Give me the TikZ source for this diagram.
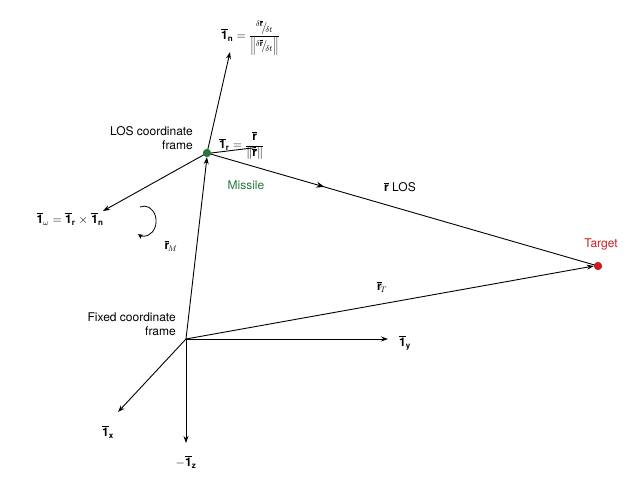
\documentclass[tikz,border=0pt]{standalone}
\usepackage{fontspec}
\setmainfont{TeX Gyre Heros}
\usetikzlibrary{arrows.meta,decorations.markings}
\definecolor{mgreen}{RGB}{40,120,60}
\definecolor{tred}{RGB}{200,30,30}
\newcommand{\vo}[1]{$\overline{\mathbf{1}}_{\mathbf{#1}}$}
\newcommand{\vr}{\overline{\mathbf{r}}}
\newcommand{\slfrac}{{}^{\delta\vr}\!\big/\!{}_{\delta t}}
\begin{document}
\begin{tikzpicture}[x=1pt,y=-1pt,
  vec/.style={-{Stealth[length=7pt,width=5pt]},line width=0.9pt},
  lbl/.style={font=\fontsize{12}{14}\selectfont,inner sep=1pt},
  dot/.style={circle,inner sep=0pt,minimum size=8pt}]
\useasboundingbox (0,0) rectangle (640,481);
\coordinate (O) at (186,339);
\node[dot,fill=mgreen] (M) at (207,153) {};
\node[dot,fill=tred] (T) at (598,266) {};
\coordinate (N) at (230,52);
\coordinate (W) at (103,211);
\coordinate (Y) at (388,339);
\coordinate (X) at (118,412);
\coordinate (Z) at (186,443);
\draw[vec] (M.center) -- (N);
\draw[vec] (M.center) -- (W);
\draw[vec] (O) -- (M.south);
\draw[line width=0.9pt,postaction={decorate},decoration={markings,mark=at position 0.3 with {\arrow{Stealth[length=8pt,width=6pt]}}}] (M.center) -- (T.center);
\draw[line width=0.9pt] (M.east) -- ++(-7:45);
\draw[vec] (O) -- (T.west);
\draw[vec] (O) -- (Y);
\draw[vec] (O) -- (X);
\draw[vec] (O) -- (Z);
\node[dot,fill=mgreen] at (M) {};
\node[dot,fill=tred] at (T) {};
% rotation arrow
\draw[line width=0.8pt,-{Stealth[length=5pt,width=5pt]}] (140,207) arc[start angle=-110,end angle=120,x radius=12,y radius=15] ;
\node[lbl,anchor=east,align=right] (losf) at (194,138) {LOS coordinate\\frame};
\node[lbl,anchor=east,align=right] (fixf) at (177,324) {Fixed coordinate\\frame};
\node[lbl,text=mgreen] (mis) at (246,185) {Missile};
\node[lbl,text=tred] (tgt) at (601,244) {Target};
\node[lbl] (los) at (400,187) {$\vr$ LOS};
\node[lbl] (rT) at (382,287) {$\vr_{\!T}$};
\node[lbl] (rM) at (171,246) {$\vr_{\!M}$};
\node[lbl] (ly) at (405,343) {\vo{y}};
\node[lbl] (lx) at (108,432) {\vo{x}};
\node[lbl] (lz) at (186,462) {$-$\vo{z}};
\node[lbl] (lw) at (70,219) {\vo{\omega} $=$ \vo{r} $\times$ \vo{n}};
\node[lbl,anchor=west] (lr) at (218,146) {\vo{r} $= \displaystyle\frac{\vr}{\|\vr\|}$};
\node[lbl,anchor=west] (ln) at (220,38) {\vo{n} $= \displaystyle\frac{\slfrac}{\left\|\slfrac\right\|}$};
\end{tikzpicture}
\end{document}
